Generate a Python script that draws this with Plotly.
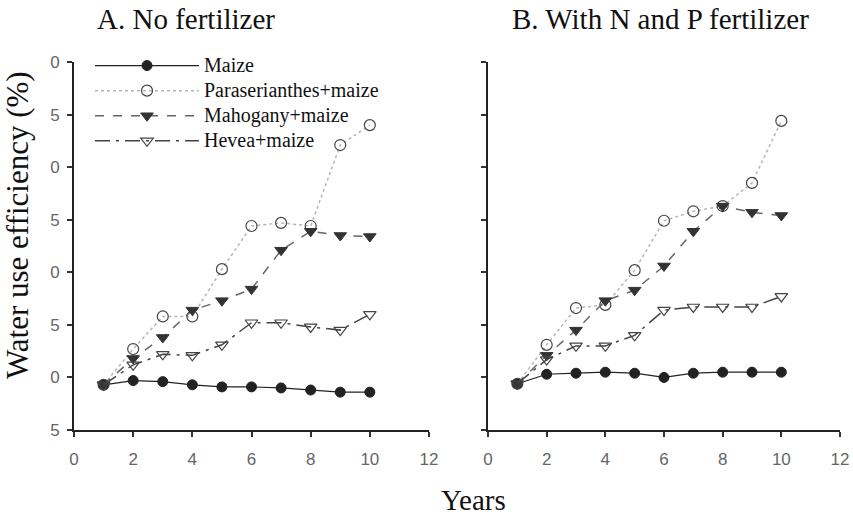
import plotly.graph_objects as go

years = [1, 2, 3, 4, 5, 6, 7, 8, 9, 10]

series_names = ["Maize", "Paraserianthes+maize", "Mahogany+maize", "Hevea+maize"]

A_maize = [9.3, 9.7, 9.6, 9.3, 9.1, 9.1, 9.0, 8.8, 8.6, 8.6]
A_para = [9.3, 12.7, 15.8, 15.8, 20.3, 24.4, 24.7, 24.4, 32.1, 34.0]
A_mahog = [9.3, 11.8, 13.8, 16.4, 17.3, 18.4, 22.1, 23.9, 23.5, 23.4]
A_hevea = [9.3, 11.2, 12.2, 12.1, 13.1, 15.2, 15.2, 14.8, 14.5, 16.0]

B_maize = [9.4, 10.3, 10.4, 10.5, 10.4, 10.0, 10.4, 10.5, 10.5, 10.5]
B_para = [9.4, 13.1, 16.6, 16.9, 20.2, 24.9, 25.8, 26.3, 28.5, 34.4]
B_mahog = [9.4, 12.1, 14.5, 17.3, 18.3, 20.6, 23.9, 26.3, 25.7, 25.4]
B_hevea = [9.4, 11.7, 13.0, 13.0, 14.0, 16.4, 16.7, 16.7, 16.7, 17.7]

y_tickvals = [5, 10, 15, 20, 25, 30, 35, 40]
y_ticktext = ["5", "0", "5", "0", "5", "0", "5", "0"]
x_tickvals = [0, 2, 4, 6, 8, 10, 12]

SERIF = "Liberation Serif, Times New Roman, serif"

styles = [
    dict(line=dict(color="#222222", width=1.2, dash="solid"),
         marker=dict(symbol="circle", size=10, color="#222222", line=dict(color="#222222", width=1))),
    dict(line=dict(color="#b5b5b5", width=1.5, dash="dot"),
         marker=dict(symbol="circle-open", size=11, color="#444444", line=dict(color="#444444", width=1.2))),
    dict(line=dict(color="#666666", width=1.5, dash="dash"),
         marker=dict(symbol="triangle-down", size=11, color="#333333", line=dict(color="#333333", width=1))),
    dict(line=dict(color="#444444", width=1.5, dash="longdashdot"),
         marker=dict(symbol="triangle-down-open", size=11, color="#444444", line=dict(color="#444444", width=1.2))),
]

fig = go.Figure()
for name, ys, st in zip(series_names, [A_maize, A_para, A_mahog, A_hevea], styles):
    fig.add_trace(go.Scatter(x=years, y=ys, name="<span style='font-size:20px'>" + name + "</span>",
                             mode="lines+markers",
                             line=st["line"], marker=st["marker"], xaxis="x", yaxis="y",
                             showlegend=True))
for name, ys, st in zip(series_names, [B_maize, B_para, B_mahog, B_hevea], styles):
    fig.add_trace(go.Scatter(x=years, y=ys, name=name, mode="lines+markers",
                             line=st["line"], marker=st["marker"], xaxis="x2", yaxis="y2",
                             showlegend=False))

W, H = 853, 518
axis_common = dict(showgrid=False, zeroline=False, showline=True, linecolor="#222222", linewidth=2,
                   ticks="outside", ticklen=5, tickwidth=1.5, tickcolor="#333333",
                   tickfont=dict(family="Liberation Sans, Arial, sans-serif", size=17, color="#666666"))

y0p = 1 - 430 / H
y1p = 1 - 62 / H

fig.update_layout(
    width=W, height=H,
    margin=dict(l=0, r=0, t=0, b=0, pad=0, autoexpand=False),
    paper_bgcolor="white", plot_bgcolor="white",
    xaxis=dict(domain=[74 / W, 429 / W], range=[0, 12], tickvals=x_tickvals, anchor="y",
               ticklabelstandoff=8, **axis_common),
    yaxis=dict(domain=[y0p, y1p], range=[5, 40], tickvals=y_tickvals, ticktext=y_ticktext,
               anchor="x", ticklabelstandoff=4, **axis_common),
    xaxis2=dict(domain=[488 / W, 840 / W], range=[0, 12], tickvals=x_tickvals, anchor="y2",
                ticklabelstandoff=8, **axis_common),
    yaxis2=dict(domain=[y0p, y1p], range=[5, 40], tickvals=y_tickvals, showticklabels=False,
                anchor="x2", **axis_common),
    legend=dict(x=90 / W, y=1 - 48 / H, xanchor="left", yanchor="top",
                bgcolor="rgba(0,0,0,0)", itemwidth=104,
                font=dict(family=SERIF, size=17, color="#111111"),
                tracegroupgap=0),
    annotations=[
        dict(text="A. No fertilizer", x=186 / W, y=1 - 19 / H, xref="paper", yref="paper",
             xanchor="center", yanchor="middle",
             showarrow=False, font=dict(family=SERIF, size=29, color="#111111")),
        dict(text="B. With N and P fertilizer", x=660 / W, y=1 - 19 / H, xref="paper", yref="paper",
             xanchor="center", yanchor="middle",
             showarrow=False, font=dict(family=SERIF, size=29, color="#111111")),
        dict(text="Years", x=473 / W, y=1 - 500 / H, xref="paper", yref="paper",
             xanchor="center", yanchor="middle",
             showarrow=False, font=dict(family=SERIF, size=29, color="#111111")),
        dict(text="Water use efficiency (%)", x=17 / W, y=1 - 225 / H, xref="paper", yref="paper",
             xanchor="center", yanchor="middle",
             showarrow=False, textangle=-90,
             font=dict(family=SERIF, size=31, color="#111111")),
    ],
)

fig.write_html("out.html", config={"displayModeBar": False},
               post_script="document.body.style.margin='0';")
